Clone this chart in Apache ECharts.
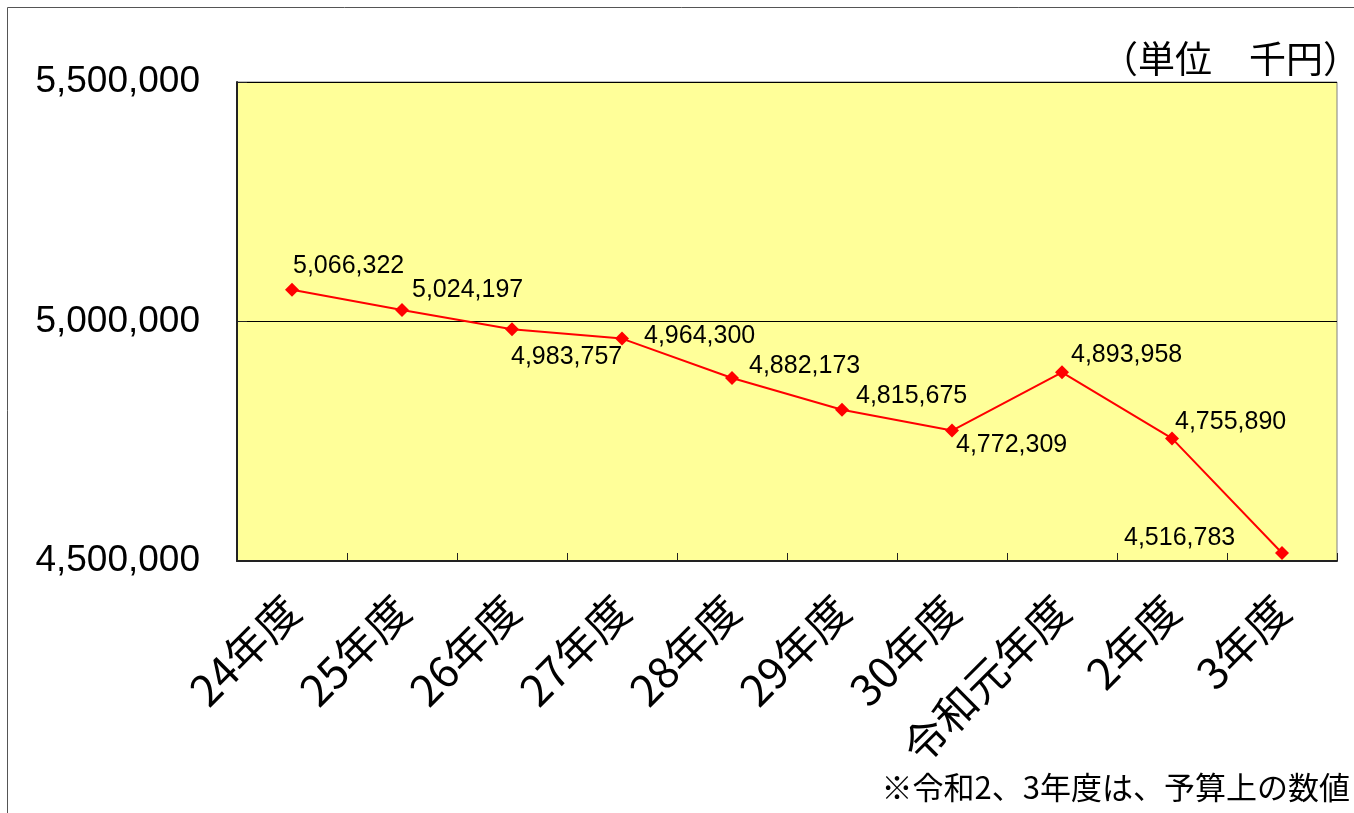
<!DOCTYPE html>
<html>
<head>
<meta charset="utf-8">
<script src="https://cdn.jsdelivr.net/npm/echarts@6/dist/echarts.min.js"></script>
<style>
  html, body { margin: 0; padding: 0; background: #fff; }
  #chart { width: 1354px; height: 813px; }
</style>
</head>
<body>
<div id="chart"></div>
<script>
// 年度ごとの金額（単位 千円）
var categories = ["24年度", "25年度", "26年度", "27年度", "28年度", "29年度", "30年度", "令和元年度", "2年度", "3年度"];
var values = [5066322, 5024197, 4983757, 4964300, 4882173, 4815675, 4772309, 4893958, 4755890, 4516783];
var yTicks = { min: 4500000, max: 5500000, step: 500000 };
var unitText = "（単位　千円）";
var noteText = "※令和2、3年度は、予算上の数値";

// ラベルの位置ずれ（点の中心から）
var labelOffsets = [[1, -24], [10, -20], [-1, 28], [22, -2], [17, -12], [14, -14], [4, 15], [9, -17], [3, -16], [-158, -15]];

var cjk = "'Noto Sans CJK JP', sans-serif";
var num = "'Liberation Sans', Arial, sans-serif";

function fmt(v) {
  return String(v).replace(/\B(?=(\d{3})+(?!\d))/g, ",");
}

var myChart = echarts.init(document.getElementById("chart"));

var seriesData = values.map(function (v, i) {
  return {
    value: v,
    label: { offset: labelOffsets[i] }
  };
});

var option = {
  backgroundColor: "#ffffff",
  animation: false,
  grid: {
    left: 237,
    top: 82,
    right: 17,
    bottom: 252,
    show: true,
    backgroundColor: "#FFFF99",
    borderColor: "#808080",
    borderWidth: 1
  },
  graphic: [
    {
      type: "rect",
      shape: { x: 7.5, y: 7.5, width: 1500, height: 1000 },
      style: { fill: null, stroke: "#555", lineWidth: 1 },
      silent: true
    },
    {
      type: "text",
      right: -6,
      top: 40,
      style: { text: unitText, font: "37px " + cjk, fill: "#000" }
    },
    {
      type: "text",
      right: 4,
      top: 772,
      style: { text: noteText, font: "31px " + cjk, fill: "#000" }
    }
  ],
  xAxis: {
    type: "category",
    data: categories,
    boundaryGap: true,
    axisLine: { lineStyle: { color: "#222", width: 2 } },
    axisTick: { show: true, inside: true, length: 8, interval: 0, lineStyle: { color: "#222" } },
    axisLabel: {
      interval: 0,
      rotate: 45,
      margin: 42,
      fontSize: 43,
      fontFamily: cjk,
      color: "#000"
    }
  },
  yAxis: {
    type: "value",
    min: yTicks.min,
    max: yTicks.max,
    interval: yTicks.step,
    axisLine: { show: true, lineStyle: { color: "#222", width: 2 } },
    axisTick: { show: true, inside: true, length: 10, lineStyle: { color: "#222" } },
    splitLine: { show: true, lineStyle: { color: "#000", width: 1 } },
    axisLabel: {
      margin: 37,
      fontSize: 37,
      fontFamily: num,
      color: "#000",
      formatter: function (v) { return fmt(v); }
    }
  },
  series: [
    {
      type: "line",
      data: seriesData,
      symbol: "diamond",
      symbolSize: 14,
      itemStyle: { color: "#FF0000" },
      lineStyle: { color: "#FF0000", width: 2 },
      label: {
        show: true,
        position: "inside",
        align: "left",
        verticalAlign: "middle",
        fontSize: 25,
        fontFamily: num,
        color: "#000",
        formatter: function (p) { return fmt(p.value); }
      }
    }
  ]
};

window.onresize = myChart.resize;
myChart.setOption(option);
</script>
</body>
</html>
